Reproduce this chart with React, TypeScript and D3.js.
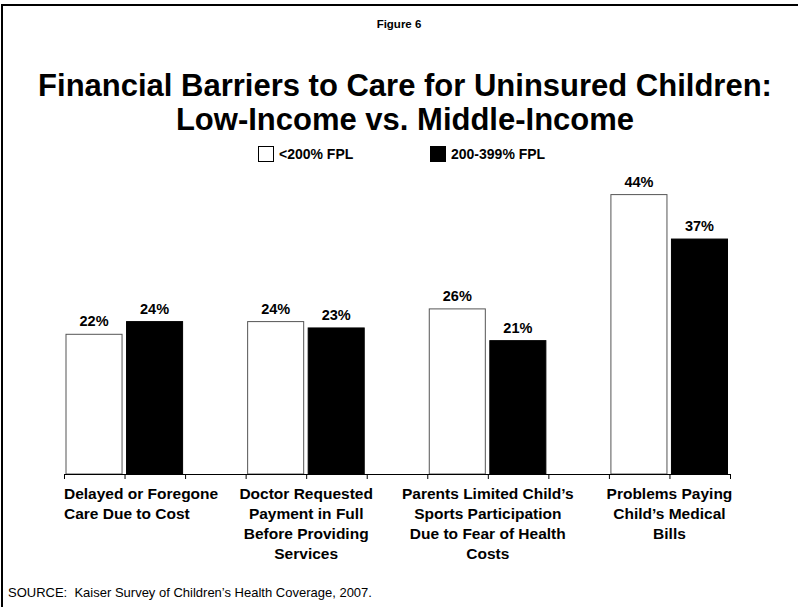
import React, { useEffect, useRef } from "react";
import * as d3 from "d3";

const categories: string[][] = [
  ["Delayed or Foregone", "Care Due to Cost"],
  ["Doctor Requested", "Payment in Full", "Before Providing", "Services"],
  ["Parents Limited Child’s", "Sports Participation", "Due to Fear of Health", "Costs"],
  ["Problems Paying", "Child’s Medical", "Bills"],
];
const seriesNames = ["<200% FPL", "200-399% FPL"];
const lowIncome = [22, 24, 26, 44];
const middleIncome = [24, 23, 21, 37];
const seriesValues = [lowIncome, middleIncome];
const seriesFill = ["#ffffff", "#000000"];

const W = 798;
const H = 607;
const FONT = "'Liberation Sans', Arial, Helvetica, sans-serif";

export default function App() {
  const ref = useRef<SVGSVGElement | null>(null);

  useEffect(() => {
    const svg = d3.select(ref.current);
    svg.selectAll("*").remove();

    // frame (top + left)
    svg.append("path")
      .attr("d", `M2,${H} L2,5 L${W},5`)
      .attr("fill", "none")
      .attr("stroke", "#000")
      .attr("stroke-width", 2);

    svg.append("text")
      .attr("x", 399).attr("y", 28)
      .attr("text-anchor", "middle")
      .attr("font-family", FONT).attr("font-weight", "bold").attr("font-size", 11.5)
      .text("Figure 6");

    const title = ["Financial Barriers to Care for Uninsured Children:", "Low-Income vs. Middle-Income"];
    title.forEach((t, i) => {
      svg.append("text")
        .attr("x", 405).attr("y", 96 + i * 34)
        .attr("text-anchor", "middle")
        .attr("font-family", FONT).attr("font-weight", "bold").attr("font-size", 31)
        .text(t);
    });

    // legend
    const legendX = [258, 430];
    seriesNames.forEach((name, i) => {
      svg.append("rect")
        .attr("x", legendX[i] + 0.5).attr("y", 146.5)
        .attr("width", 15).attr("height", 15)
        .attr("fill", seriesFill[i]).attr("stroke", "#000").attr("stroke-width", 1);
      svg.append("text")
        .attr("x", legendX[i] + 21).attr("y", 159)
        .attr("font-family", FONT).attr("font-weight", "bold").attr("font-size", 14)
        .text(name);
    });

    const nSlots = 11;
    const x = d3.scaleLinear().domain([0, nSlots]).range([64, 730]);
    const y = d3.scaleLinear().domain([0, 50]).range([474, 156.5]);
    const slotW = x(1) - x(0);

    const g = svg.append("g");
    categories.forEach((_, ci) => {
      seriesValues.forEach((vals, si) => {
        const slot = ci * 3 + si;
        const v = vals[ci];
        const bx = x(slot) + 2;
        const bw = slotW - 4.5;
        g.append("rect")
          .attr("x", bx).attr("y", y(v))
          .attr("width", bw).attr("height", y(0) - y(v))
          .attr("fill", seriesFill[si])
          .attr("stroke", si === 0 ? "#555" : "#000")
          .attr("stroke-width", 1);
        g.append("text")
          .attr("x", bx + bw / 2).attr("y", y(v) - 8)
          .attr("text-anchor", "middle")
          .attr("font-family", FONT).attr("font-weight", "bold").attr("font-size", 14.5)
          .text(`${v}%`);
      });
    });

    // axis
    const axis = d3.axisBottom(x)
      .tickValues(d3.range(0, nSlots + 1))
      .tickSize(5)
      .tickSizeOuter(0)
      .tickFormat(() => "");
    const ax = svg.append("g").attr("transform", `translate(0,${y(0)})`).call(axis as any);
    ax.select(".domain").attr("stroke", "#000");
    ax.selectAll(".tick line").attr("stroke", "#000");

    // category labels
    categories.forEach((lines, ci) => {
      const cx = (x(ci * 3) + x(ci * 3 + 2)) / 2;
      lines.forEach((ln, li) => {
        const t = svg.append("text")
          .attr("x", cx).attr("y", 499 + li * 20)
          .attr("text-anchor", "middle")
          .attr("font-family", FONT).attr("font-weight", "bold").attr("font-size", 15.5)
          .text(ln);
        const node = t.node() as SVGTextElement;
        const w = node.getComputedTextLength();
        if (cx - w / 2 < x(0)) t.attr("x", x(0) + w / 2);
      });
    });

    svg.append("text")
      .attr("x", 8).attr("y", 597)
      .attr("font-family", FONT).attr("font-size", 13)
      .style("white-space", "pre")
      .text("SOURCE:  Kaiser Survey of Children’s Health Coverage, 2007.");
  }, []);

  return (
    <svg
      ref={ref}
      width={W}
      height={H}
      style={{ position: "absolute", left: 0, top: 0, background: "#fff" }}
    />
  );
}
